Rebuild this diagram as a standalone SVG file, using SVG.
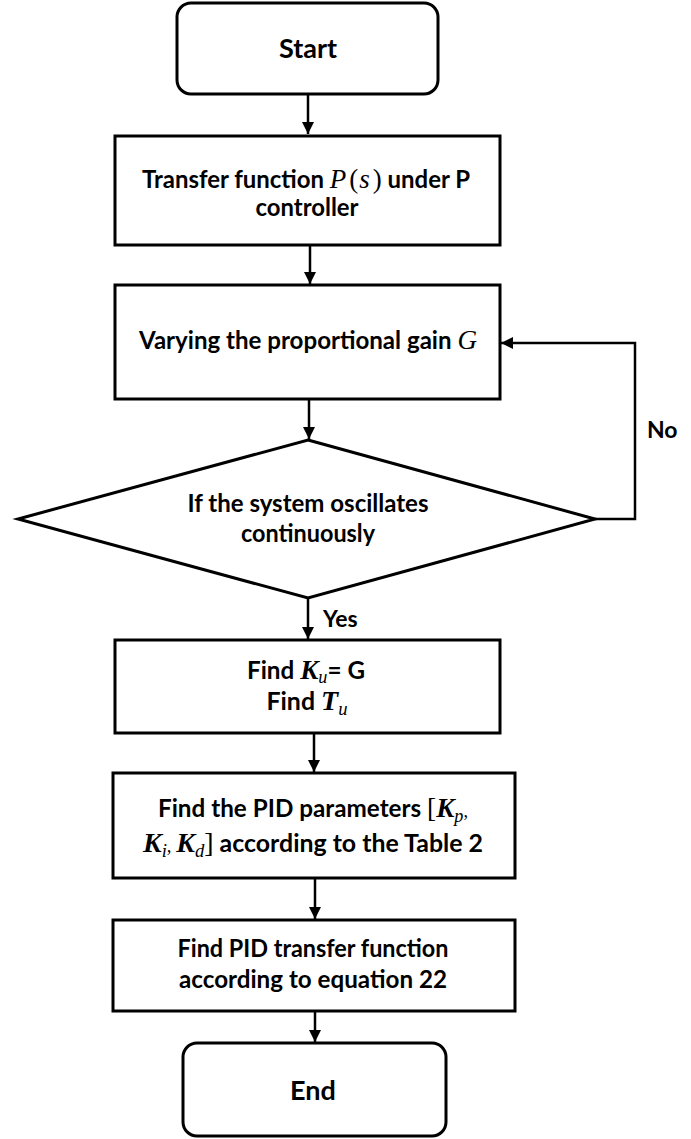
<svg xmlns="http://www.w3.org/2000/svg" width="691" height="1139" viewBox="0 0 691 1139">
<style>
.box{fill:#fff;stroke:#000;stroke-width:3}
.con{fill:none;stroke:#000;stroke-width:2.5}
.t{font-family:Lato,"Liberation Sans",sans-serif;font-weight:bold;font-size:24px;fill:#000;text-anchor:middle}
.big{font-size:27px}
.lbl{font-family:Lato,"Liberation Sans",sans-serif;font-weight:bold;font-size:23px;fill:#000}
.m{font-family:"Liberation Serif","DejaVu Serif",serif;font-style:italic;font-weight:normal;font-size:27px}
.mb{font-family:"Liberation Serif","DejaVu Serif",serif;font-style:italic;font-weight:bold;font-size:27px}
.mu{font-family:"Liberation Serif","DejaVu Serif",serif;font-style:normal;font-weight:normal;font-size:27px}
.sub{font-size:18px}
</style>
<defs>
<marker id="ah" markerUnits="userSpaceOnUse" markerWidth="14" markerHeight="14" refX="12" refY="6" orient="auto">
<path d="M0,0 L12,6 L0,12 Z" fill="#000"/>
</marker>
</defs>
<g id="connectors">
<line class="con" x1="308" y1="94" x2="308" y2="134" marker-end="url(#ah)"/>
<line class="con" x1="310" y1="245" x2="310" y2="284" marker-end="url(#ah)"/>
<line class="con" x1="309" y1="399" x2="309" y2="439" marker-end="url(#ah)"/>
<polyline class="con" points="595,519 635,519 635,343 501,343" marker-end="url(#ah)"/>
<line class="con" x1="308" y1="599" x2="308" y2="639" marker-end="url(#ah)"/>
<line class="con" x1="314" y1="733" x2="314" y2="772" marker-end="url(#ah)"/>
<line class="con" x1="315" y1="878" x2="315" y2="919" marker-end="url(#ah)"/>
<line class="con" x1="315" y1="1011" x2="315" y2="1042" marker-end="url(#ah)"/>
<text class="lbl" x="647" y="438">No</text>
<text class="lbl" x="323" y="627">Yes</text>
</g>
<g id="start">
<rect class="box" x="177" y="3" width="261" height="91" rx="14"/>
<text class="t big" x="308" y="58">Start</text>
</g>
<g id="transfer">
<rect class="box" x="115" y="136" width="385" height="109"/>
<text class="t" x="306" y="188" textLength="328" lengthAdjust="spacingAndGlyphs">Transfer function <tspan class="m">P</tspan><tspan class="mu" dx="3">(</tspan><tspan class="m" dx="1">s</tspan><tspan class="mu" dx="3">)</tspan> under P</text>
<text class="t" x="307" y="216" textLength="103" lengthAdjust="spacingAndGlyphs">controller</text>
</g>
<g id="vary">
<rect class="box" x="115" y="285" width="385" height="114"/>
<text class="t" x="308" y="349" textLength="338" lengthAdjust="spacingAndGlyphs">Varying the proportional  gain <tspan class="m">G</tspan></text>
</g>
<g id="decision">
<polygon class="box" points="308,440 595,519 308,598 18,519"/>
<text class="t" x="308" y="512" textLength="241" lengthAdjust="spacingAndGlyphs">If the system oscillates</text>
<text class="t" x="308" y="542" textLength="134" lengthAdjust="spacingAndGlyphs">continuously</text>
</g>
<g id="findK">
<rect class="box" x="115" y="640" width="385" height="93"/>
<text class="t" x="306" y="679" textLength="118" lengthAdjust="spacingAndGlyphs">Find <tspan class="mb">K</tspan><tspan class="m sub" dy="4">u</tspan><tspan dy="-4">= G</tspan></text>
<text class="t" x="307" y="710" textLength="81" lengthAdjust="spacingAndGlyphs">Find <tspan class="mb">T</tspan><tspan class="m sub" dy="5">u</tspan></text>
</g>
<g id="pid">
<rect class="box" x="113" y="773" width="402" height="105"/>
<text class="t" x="313" y="817" textLength="310" lengthAdjust="spacingAndGlyphs">Find the PID parameters <tspan class="mu">[</tspan><tspan class="mb">K</tspan><tspan class="m sub" dy="5">p</tspan><tspan class="mu sub" dy="-5">,</tspan></text>
<text class="t" x="313" y="852" textLength="340" lengthAdjust="spacingAndGlyphs"><tspan class="mb">K</tspan><tspan class="m sub" dy="5">i</tspan><tspan class="mu sub" dy="-5">, </tspan><tspan class="mb">K</tspan><tspan class="m sub" dy="5">d</tspan><tspan class="mu" dy="-5">]</tspan> according to the Table 2</text>
</g>
<g id="pidtf">
<rect class="box" x="113" y="920" width="402" height="91"/>
<text class="t" x="313" y="957" textLength="271" lengthAdjust="spacingAndGlyphs">Find  PID transfer function</text>
<text class="t" x="313" y="988" textLength="268" lengthAdjust="spacingAndGlyphs">according  to equation  22</text>
</g>
<g id="end">
<rect class="box" x="183" y="1043" width="263" height="93" rx="14"/>
<text class="t big" x="313" y="1100">End</text>
</g>
</svg>
